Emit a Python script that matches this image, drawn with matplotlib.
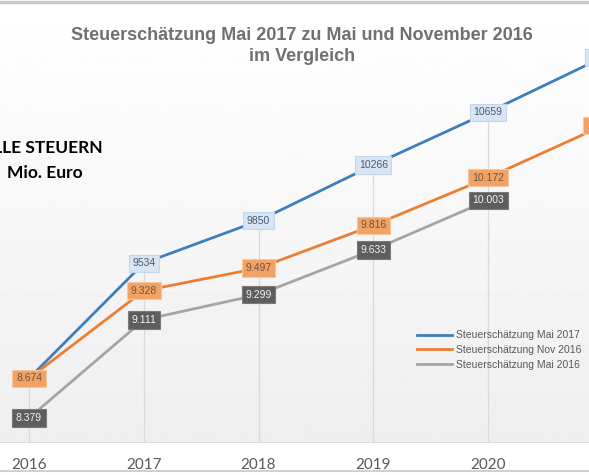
import numpy as np
import matplotlib
matplotlib.use("Agg")
import matplotlib.pyplot as plt

# Steuerschaetzung, alle Steuern in Mio. Euro
years = [2016, 2017, 2018, 2019, 2020, 2021]
mai_2017 = [8674, 9534, 9850, 10266, 10659, 11070]
nov_2016 = [8674, 9328, 9497, 9816, 10172, 10560]
mai_2016 = [8379, 9111, 9299, 9633, 10003]

series_names = ["Steuerschätzung Mai 2017",
                "Steuerschätzung Nov 2016",
                "Steuerschätzung Mai 2016"]


def de_format(v):
    # deutsche Tausendertrennung mit Punkt
    return f"{v:,}".replace(",", ".")


fig = plt.figure(figsize=(5.89, 4.75), dpi=100)
fig.patch.set_facecolor("white")

# Achse so legen, dass der Bildausschnitt passt (rechts/links abgeschnitten)
ax = fig.add_axes([0, 32 / 475, 1, 443 / 475])

# leichter Verlauf im Diagrammbereich
grad = np.linspace(1.0, 0.935, 256).reshape(-1, 1)
ax.imshow(grad, cmap="gray", vmin=0, vmax=1, aspect="auto",
          extent=[0, 1, 0, 1], transform=ax.transAxes, zorder=0)

for s in ax.spines.values():
    s.set_visible(False)
ax.axhline(8192, color="#d9d9d9", lw=1.2, zorder=1)

# Lotlinien von der oberen Reihe zur Achse
ax.vlines(years, 8192, mai_2017, color="#d9d9d9", lw=0.9, zorder=1)

ax.plot(years, mai_2017, color="#3d7ebf", lw=2, zorder=3, label=series_names[0])
ax.plot(years, nov_2016, color="#ed7d31", lw=2, zorder=3, label=series_names[1])
ax.plot(years[:len(mai_2016)], mai_2016, color="#a5a5a5", lw=2, zorder=3,
        label=series_names[2])

box_blue = dict(boxstyle="square,pad=0.35", fc="#d7e5f4", ec="#c3d6ec", lw=0.8)
box_orange = dict(boxstyle="square,pad=0.35", fc="#f2a263", ec="#f6c7a0", lw=0.8)
box_gray = dict(boxstyle="square,pad=0.35", fc="#5e5e5e", ec="#7a7a7a", lw=0.8)

for x, v in zip(years, mai_2016):
    ax.text(x, v, de_format(v), ha="center", va="center", fontsize=7.5,
            color="#f2f2f2", bbox=box_gray, zorder=4, family="Liberation Sans")
for x, v in zip(years, mai_2017):
    if x == 2016:
        continue
    ax.text(x, v, str(v), ha="center", va="center", fontsize=7.5,
            color="#4a5a6e", bbox=box_blue, zorder=4, family="Liberation Sans")
for x, v in zip(years, nov_2016):
    ax.text(x, v, de_format(v), ha="center", va="center", fontsize=7.5,
            color="#6b5648", bbox=box_orange, zorder=5, family="Liberation Sans")

ax.set_xticks(years)
ax.set_xticklabels([str(y) for y in years], fontsize=11, color="#595959",
                   family="Lato")
ax.tick_params(axis="x", length=0, pad=11)
ax.set_yticks([])

ax.legend(loc="upper left", bbox_to_anchor=(408 / 589, 1 - 321 / 475),
          bbox_transform=fig.transFigure, frameon=False,
          handlelength=3.3, labelspacing=0.45, handletextpad=0.4,
          labelcolor="#595959", prop={"family": "Liberation Sans", "size": 7.5})

# Grenzen zum Schluss setzen, damit nichts sie verschiebt
ax.set_xlim(2015.747, 2020.880)
ax.set_ylim(8192, 11498)

fig.text(302 / 589, 1 - 46 / 475,
         "Steuerschätzung Mai 2017 zu Mai und November 2016\nim Vergleich",
         ha="center", va="center", fontsize=13, fontweight="bold",
         color="#707070", family="Liberation Sans", linespacing=1.3)

fig.text(103 / 589, 1 - 148 / 475, "ALLE STEUERN", ha="right", va="center",
         fontsize=12.5, fontweight="bold", color="black", family="Lato")
fig.text(45 / 589, 1 - 173 / 475, "Mio. Euro", ha="center", va="center",
         fontsize=12.5, fontweight="bold", color="black", family="Lato")

# Rahmenlinien oben und unten
fig.add_artist(plt.Line2D([0, 1], [1 - 1.5 / 475] * 2, color="#c8c8c8", lw=2.5))
fig.add_artist(plt.Line2D([0, 1], [1 - 471 / 475] * 2, color="#d0d0d0", lw=1.5))

fig.savefig("out.png", dpi=100)
